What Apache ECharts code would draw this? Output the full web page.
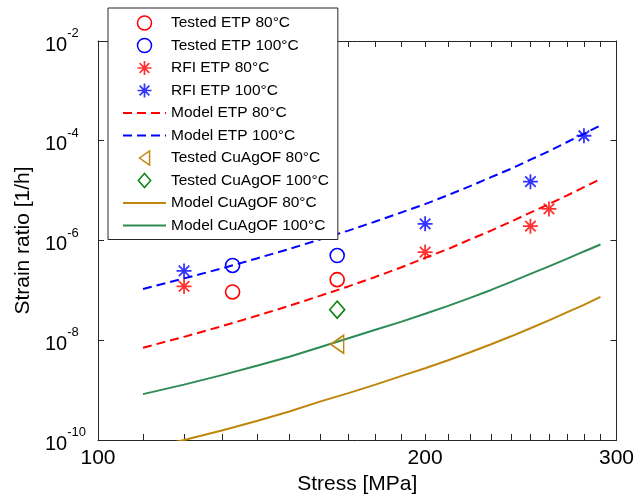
<!DOCTYPE html>
<html><head><meta charset="utf-8">
<script src="https://cdn.jsdelivr.net/npm/echarts@6/dist/echarts.min.js"></script>
<style>html,body{margin:0;padding:0;background:#fff}#c{width:637px;height:500px}</style>
</head><body><div id="c"></div>
<script>
// ---- data (stress in MPa, strain ratio in 1/h) ----
const modelStress = [110,120,130,140,150,160,170,180,190,200,210,220,230,240,250,260,270,280,290];
const modelEtp80 = [7.08e-9,1.17e-8,1.91e-8,3.09e-8,4.90e-8,7.76e-8,1.20e-7,1.86e-7,2.88e-7,4.47e-7,6.76e-7,1.05e-6,1.58e-6,2.40e-6,3.63e-6,5.37e-6,7.94e-6,1.17e-5,1.70e-5];
const modelEtp100 = [1.07e-7,1.74e-7,2.75e-7,4.37e-7,6.76e-7,1.05e-6,1.58e-6,2.40e-6,3.63e-6,5.37e-6,8.13e-6,1.23e-5,1.86e-5,2.75e-5,4.17e-5,6.17e-5,9.33e-5,1.38e-4,2.04e-4];
const modelCu80 = [6.46e-11,1.0e-10,1.55e-10,2.40e-10,3.72e-10,5.89e-10,8.71e-10,1.29e-9,1.91e-9,2.75e-9,3.98e-9,5.75e-9,8.32e-9,1.20e-8,1.74e-8,2.51e-8,3.63e-8,5.13e-8,7.41e-8];
const modelCu100 = [8.32e-10,1.29e-9,2.00e-9,3.09e-9,4.68e-9,7.24e-9,1.10e-8,1.62e-8,2.34e-8,3.39e-8,4.90e-8,7.08e-8,1.02e-7,1.48e-7,2.14e-7,3.02e-7,4.27e-7,6.03e-7,8.32e-7];

const testedEtpStress = [133, 166];
const testedEtp80 = [9.3e-8, 1.64e-7];
const testedEtp100 = [3.16e-7, 5.0e-7];
const rfiStress80 = [120, 200, 250, 260];
const rfiEtp80 = [1.2e-7, 5.86e-7, 1.94e-6, 4.3e-6];
const rfiStress100 = [120, 200, 250, 280];
const rfiEtp100 = [2.45e-7, 2.16e-6, 1.51e-5, 1.26e-4];
const testedCuStress = [166];
const testedCu80 = [8.3e-9];
const testedCu100 = [4.1e-8];

const xTickValues = [100,110,120,130,140,150,160,170,180,190,200,210,220,230,240,250,260,270,280,290,300];
const xLabelValues = [100, 200, 300];
const yTickValues = [1e-10, 1e-8, 1e-6, 1e-4, 1e-2];

const names = ['Tested ETP 80°C','Tested ETP 100°C','RFI ETP 80°C','RFI ETP 100°C','Model ETP 80°C','Model ETP 100°C','Tested CuAgOF 80°C','Tested CuAgOF 100°C','Model CuAgOF 80°C','Model CuAgOF 100°C'];

// ---- styling ----
const RED = '#ff0000', BLUE = '#0000ff', BROWN = '#bf860b', DGREEN = '#0b860b', SGREEN = '#2e8b57';
const AX = '#262626';
const FONT = 'Liberation Sans, Arial, sans-serif';
const STAR = 'path://M-0.12,-1 L0.12,-1 L0.12,1 L-0.12,1 Z M-1,-0.12 L1,-0.12 L1,0.12 L-1,0.12 Z M-0.615,-0.785 L0.785,0.615 L0.615,0.785 L-0.785,-0.615 Z M-0.785,0.615 L0.615,-0.785 L0.785,-0.615 L-0.615,0.785 Z';
const TRI_LEFT = 'path://M0,0.5 L0.72,0 L0.72,1 Z';
const DIAMOND = 'path://M0.44,0 L0.88,0.5 L0.44,1 L0,0.5 Z';
const NONE = 'rgba(0,0,0,0)';

const zip = (xs, ys) => xs.map((x, i) => [x, ys[i]]);

function modelLine(name, ys, color, dashed) {
  return {
    name, type: 'line', data: zip(modelStress, ys), symbol: 'none', smooth: false, clip: true,
    lineStyle: { color, width: 2, type: dashed ? [9, 5] : 'solid' },
    itemStyle: { color: NONE, borderColor: NONE, borderWidth: 0 }, z: 2
  };
}
function hollow(name, xs, ys, color, symbol, size) {
  return {
    name, type: 'scatter', data: zip(xs, ys), symbol, symbolSize: size,
    itemStyle: { color: NONE, borderColor: color, borderWidth: 1.6, opacity: 1 }, z: 5
  };
}
function star(name, xs, ys, color) {
  return {
    name, type: 'scatter', data: zip(xs, ys), symbol: STAR, symbolSize: 15,
    itemStyle: { color, borderWidth: 0 }, z: 5
  };
}

const axisCommonX = {
  type: 'log', logBase: 10, min: 100, max: 300,
  axisLine: { show: true, onZero: false, lineStyle: { color: AX, width: 1 } },
  axisTick: { show: true, inside: true, length: 6, customValues: xTickValues, lineStyle: { color: AX, width: 1 } },
  splitLine: { show: false }, minorTick: { show: false }, minorSplitLine: { show: false }
};
const axisCommonY = {
  type: 'log', logBase: 10, min: 1e-10, max: 1e-2,
  axisLine: { show: true, onZero: false, lineStyle: { color: AX, width: 1 } },
  axisTick: { show: true, inside: true, length: 6, customValues: yTickValues, lineStyle: { color: AX, width: 1 } },
  splitLine: { show: false }, minorTick: { show: false }, minorSplitLine: { show: false }
};

const chart = echarts.init(document.getElementById('c'), null, { renderer: 'canvas' });
chart.setOption({
  animation: false,
  backgroundColor: '#fff',
  textStyle: { fontFamily: FONT },
  grid: { left: 98, right: 20, top: 41, bottom: 57, containLabel: false },
  xAxis: [
    Object.assign({}, axisCommonX, {
      position: 'bottom',
      axisLabel: { show: true, customValues: xLabelValues, fontSize: 21, color: '#000', margin: 8, fontFamily: FONT,
        formatter: v => String(Math.round(v)) },
      name: 'Stress [MPa]', nameLocation: 'middle', nameGap: 34,
      nameTextStyle: { fontSize: 21, color: '#000', fontFamily: FONT }
    }),
    Object.assign({}, axisCommonX, { position: 'top', axisLabel: { show: false } })
  ],
  yAxis: [
    Object.assign({}, axisCommonY, {
      position: 'left',
      axisLabel: { show: true, customValues: yTickValues, align: 'left', margin: 53, color: '#000',
        formatter: v => '{b|10}{s|' + Math.round(Math.log10(v)) + '}',
        rich: {
          b: { fontSize: 20, fontFamily: FONT, color: '#000', verticalAlign: 'bottom', padding: [8, 0, 0, 0] },
          s: { fontSize: 13, fontFamily: FONT, color: '#000', verticalAlign: 'top', lineHeight: 13 }
        } },
      name: 'Strain ratio [1/h]', nameLocation: 'middle', nameGap: 60, nameRotate: 90,
      nameTextStyle: { fontSize: 21, color: '#000', fontFamily: FONT }
    }),
    Object.assign({}, axisCommonY, { position: 'right', axisLabel: { show: false } })
  ],
  legend: {
    show: true, orient: 'vertical', left: 108, top: 8,
    backgroundColor: '#fff', borderColor: AX, borderWidth: 1, borderRadius: 0,
    padding: [7, 9, 6, 14], itemWidth: 43, itemHeight: 14, itemGap: 6.5,
    textStyle: { fontSize: 15.5, color: '#000', fontFamily: FONT, lineHeight: 16 },
    itemStyle: { borderWidth: 1.5 },
    symbolKeepAspect: true,
    selectedMode: false,
    data: names
  },
  series: [
    modelLine(names[4], modelEtp80, RED, true),
    modelLine(names[5], modelEtp100, BLUE, true),
    modelLine(names[8], modelCu80, BROWN, false),
    modelLine(names[9], modelCu100, SGREEN, false),
    hollow(names[0], testedEtpStress, testedEtp80, RED, 'circle', 14),
    hollow(names[1], testedEtpStress, testedEtp100, BLUE, 'circle', 14),
    star(names[2], rfiStress80, rfiEtp80, RED),
    star(names[3], rfiStress100, rfiEtp100, BLUE),
    hollow(names[6], testedCuStress, testedCu80, BROWN, TRI_LEFT, [13, 18]),
    hollow(names[7], testedCuStress, testedCu100, DGREEN, DIAMOND, [15, 17])
  ]
});
</script></body></html>
